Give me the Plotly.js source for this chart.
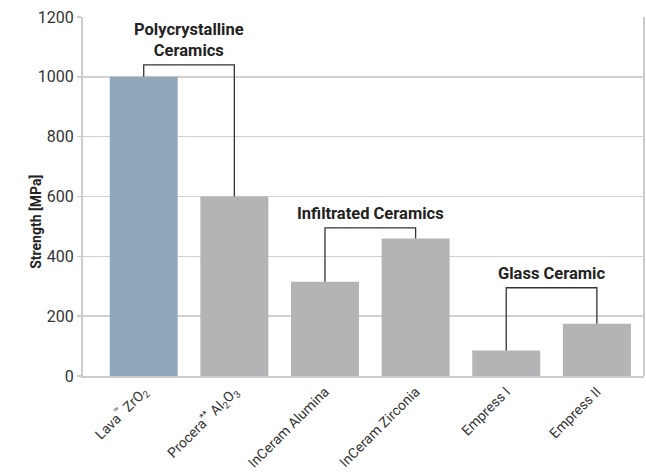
<!DOCTYPE html>
<html><head><meta charset="utf-8">
<script src="https://cdn.plot.ly/plotly-3.0.1.min.js"></script>
<style>body{margin:0;padding:0;background:#fff}#chart{width:646px;height:475px}</style>
</head><body><div id="chart"></div>
<script>
var categories = ["Lava<sup>™</sup> ZrO<sub>2</sub>", "Procera<sup>**</sup> Al<sub>2</sub>O<sub>3</sub>", "InCeram Alumina", "InCeram Zirconia", "Empress I", "Empress II"];
var strength = [1000, 600, 315, 460, 85, 175];
var barColors = ["#8fa9bb", "#b3b4b6", "#b3b4b6", "#b3b4b6", "#b3b4b6", "#b3b4b6"];
var groupLabels = ["Polycrystalline<br>Ceramics", "Infiltrated Ceramics", "Glass Ceramic"];
var groupStart = [0, 2, 4];
var groupTop = [1040, 495, 295];
var yTicks = [0, 200, 400, 600, 800, 1000, 1200];
var yTitle = "Strength [MPa]";

var FONT = '"Liberation Sans Narrow", "Roboto", "Liberation Sans", sans-serif';
var traces = [{
  type: "bar", x: categories, y: strength, width: 0.75,
  marker: {color: barColors}, hoverinfo: "x+y", showlegend: false
}];
var annotations = [];
for (var g = 0; g < groupStart.length; g++) {
  var a = groupStart[g], b = a + 1;
  traces.push({
    type: "scatter", mode: "lines", showlegend: false, hoverinfo: "skip",
    x: [categories[a], categories[a], categories[b], categories[b]],
    y: [strength[a], groupTop[g], groupTop[g], strength[b]],
    line: {color: "#333333", width: 1.3}
  });
  annotations.push({
    x: a + 0.5, y: groupTop[g], xref: "x", yref: "y", yanchor: "bottom",
    yshift: 3, showarrow: false, text: "<b>" + groupLabels[g] + "</b>",
    font: {family: FONT, size: 16.5, color: "#222222"}
  });
}
annotations.push({
  xref: "paper", yref: "paper", x: -0.103, y: 0.43, textangle: -90,
  showarrow: false, text: "<b>" + yTitle + "</b>",
  font: {family: FONT, size: 14, color: "#222222"}
});
var layout = {
  width: 646, height: 475,
  margin: {l: 83, r: 2, t: 17, b: 99},
  paper_bgcolor: "#ffffff", plot_bgcolor: "#ffffff",
  xaxis: {
    type: "category", range: [-0.67, 5.52],
    tickangle: -45, tickfont: {family: FONT, size: 14, color: "#333333"},
    showline: true, linecolor: "#cccccc", linewidth: 2, ticks: "", showgrid: false,
    zeroline: false, mirror: false
  },
  yaxis: {
    range: [0, 1200], tickvals: yTicks, ticktext: yTicks.map(String),
    tickfont: {family: FONT, size: 16, color: "#333333"},
    showgrid: true, gridcolor: "#d0d0d0", gridwidth: 1.5,
    showline: true, linecolor: "#cccccc", linewidth: 2,
    ticks: "outside", ticklen: 4, tickcolor: "#cccccc", tickwidth: 1.5,
    zeroline: false
  },
  shapes: [{type: "line", xref: "paper", yref: "paper", x0: 1, x1: 1, y0: 0, y1: 1, line: {color: "#cccccc", width: 2}}],
  annotations: annotations
};
Plotly.newPlot("chart", traces, layout, {displayModeBar: false, staticPlot: true});
</script></body></html>
